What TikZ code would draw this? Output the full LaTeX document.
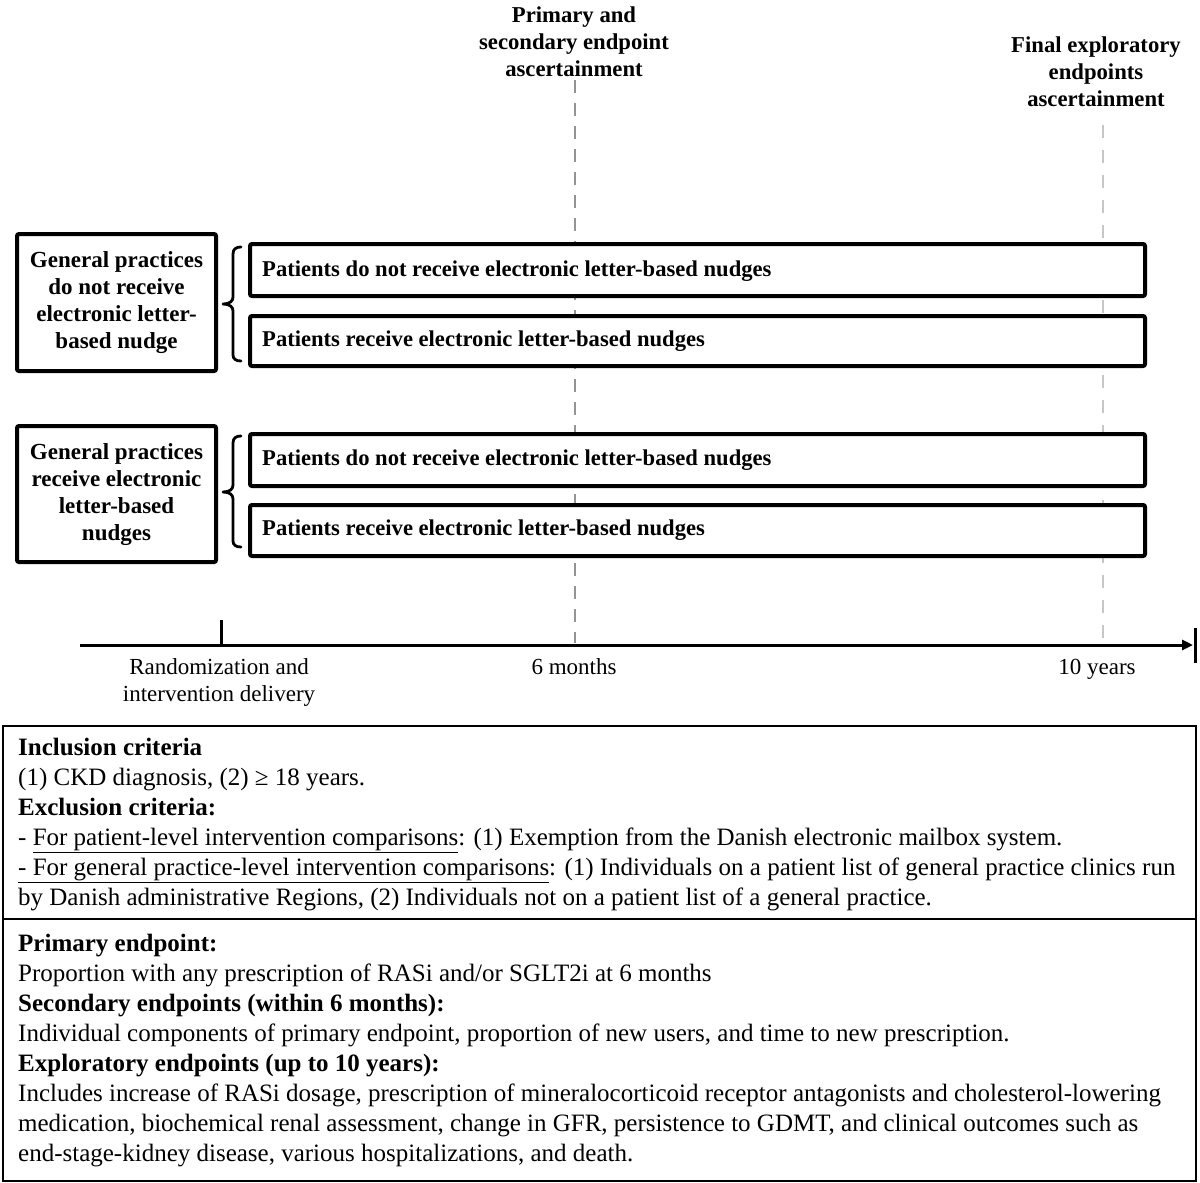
\documentclass[tikz,border=0pt]{standalone}
\usepackage{fontspec}
\setmainfont{Liberation Serif}
\usetikzlibrary{arrows.meta}
\newcommand{\ulx}[1]{\underline{#1}}
\begin{document}
\begin{tikzpicture}[x=1pt,y=-1pt,
  thickbox/.style={draw=black,line width=4pt,fill=white,rounded corners=2pt},
  armtext/.style={font=\fontsize{22.6}{27}\selectfont\bfseries,anchor=west,inner sep=0pt},
  gptext/.style={font=\fontsize{23}{27}\selectfont\bfseries,align=center,inner sep=0pt},
  toplabel/.style={font=\fontsize{22.7}{27}\selectfont\bfseries,align=center,inner sep=0pt},
  axlabel/.style={font=\fontsize{23}{27}\selectfont,align=center,inner sep=0pt},
  bodyline/.style={font=\fontsize{25}{30}\selectfont,anchor=base west,inner sep=0pt},
  headline/.style={font=\fontsize{25}{30}\selectfont\bfseries,anchor=base west,inner sep=0pt},
  bracestyle/.style={line width=2.8pt,line cap=round,line join=round},
  dashA/.style={draw=black!42,line width=2.5pt,dash pattern=on 13pt off 10pt},
  dashB/.style={draw=black!22,line width=2.5pt,dash pattern=on 13pt off 12pt}]
\useasboundingbox (0,0) rectangle (1200,1183);

% timeline coordinates
\coordinate (axstart) at (80,645);
\coordinate (axend) at (1193,645);
\coordinate (barT) at (1195,628);
\coordinate (barB) at (1195,663);
\coordinate (tickT) at (221,620);
\coordinate (tickB) at (221,645);
\coordinate (dA1) at (575,80);
\coordinate (dA2) at (575,643);
\coordinate (dB1) at (1103,125);
\coordinate (dB2) at (1103,643);

% dashed ascertainment lines
\draw[dashA] (dA1) -- (dA2);
\draw[dashB] (dB1) -- (dB2);

% top labels
\node[toplabel] (lblA) at (574,42) {Primary and\\secondary endpoint\\ascertainment};
\node[toplabel] (lblB) at (1096,72) {Final exploratory\\endpoints\\ascertainment};

% general practice boxes
\draw[thickbox] (17,234) rectangle (216,371);
\node[gptext] (gp1) at (116.5,303) {General practices\\do not receive\\electronic letter-\\based nudge};
\draw[thickbox] (17,426) rectangle (216,562);
\node[gptext] (gp2) at (116.5,495) {General practices\\receive electronic\\letter-based\\nudges};

% patient boxes
\draw[thickbox] (250,244) rectangle (1145,296);
\node[armtext] (p1) at (262,271) {Patients do not receive electronic letter-based nudges};
\draw[thickbox] (250,316) rectangle (1145,366);
\node[armtext] (p2) at (262,341) {Patients receive electronic letter-based nudges};
\draw[thickbox] (250,434) rectangle (1145,486);
\node[armtext] (p3) at (262,460) {Patients do not receive electronic letter-based nudges};
\draw[thickbox] (250,505) rectangle (1145,556);
\node[armtext] (p4) at (262,530) {Patients receive electronic letter-based nudges};

% braces
\draw[bracestyle] (241,247) .. controls (236,247) and (233,249) .. (233,254) -- (233,297)
  .. controls (233,301) and (230,304) .. (223,304)
  .. controls (230,304) and (233,307) .. (233,311) -- (233,355)
  .. controls (233,359) and (236,361) .. (241,361);
\draw[bracestyle] (241,436) .. controls (236,436) and (233,438) .. (233,443) -- (233,485)
  .. controls (233,489) and (230,492) .. (223,492)
  .. controls (230,492) and (233,495) .. (233,499) -- (233,541)
  .. controls (233,545) and (236,547) .. (241,547);

% timeline
\draw[line width=3pt,-{Triangle[length=11pt,width=10pt]}] (axstart) -- (axend);
\draw[line width=3pt] (barT) -- (barB);
\draw[line width=3pt] (tickT) -- (tickB);
\node[axlabel] (ax1) at (219,682) {Randomization and\\intervention delivery};
\node[axlabel,anchor=base] (ax2) at (574,674) {6 months};
\node[axlabel,anchor=base] (ax3) at (1097,674) {10 years};

% bottom box
\draw[line width=2.5pt] (3,726) rectangle (1196,1181);
\draw[line width=2.5pt] (3,919) -- (1196,919);
\node[headline] (l1) at (18,755) {Inclusion criteria};
\node[bodyline] (l2) at (18,785) {(1) CKD diagnosis, (2) ≥ 18 years.};
\node[headline] (l3) at (18,815) {Exclusion criteria:};
\node[bodyline] (l4) at (18,845) {- \ulx{For patient-level intervention comparisons}: (1) Exemption from the Danish electronic mailbox system.};
\node[bodyline] (l5) at (18,875) {\ulx{- For general practice-level intervention comparisons}: (1) Individuals on a patient list of general practice clinics run};
\node[bodyline] (l6) at (18,905) {by Danish administrative Regions, (2) Individuals not on a patient list of a general practice.};
\node[headline] (m1) at (18,951) {Primary endpoint:};
\node[bodyline] (m2) at (18,981) {Proportion with any prescription of RASi and/or SGLT2i at 6 months};
\node[headline] (m3) at (18,1011) {Secondary endpoints (within 6 months):};
\node[bodyline] (m4) at (18,1041) {Individual components of primary endpoint, proportion of new users, and time to new prescription.};
\node[headline] (m5) at (18,1071) {Exploratory endpoints (up to 10 years):};
\node[bodyline] (m6) at (18,1101) {Includes increase of RASi dosage, prescription of mineralocorticoid receptor antagonists and cholesterol-lowering};
\node[bodyline] (m7) at (18,1131) {medication, biochemical renal assessment, change in GFR, persistence to GDMT, and clinical outcomes such as};
\node[bodyline] (m8) at (18,1161) {end-stage-kidney disease, various hospitalizations, and death.};
\end{tikzpicture}
\end{document}
